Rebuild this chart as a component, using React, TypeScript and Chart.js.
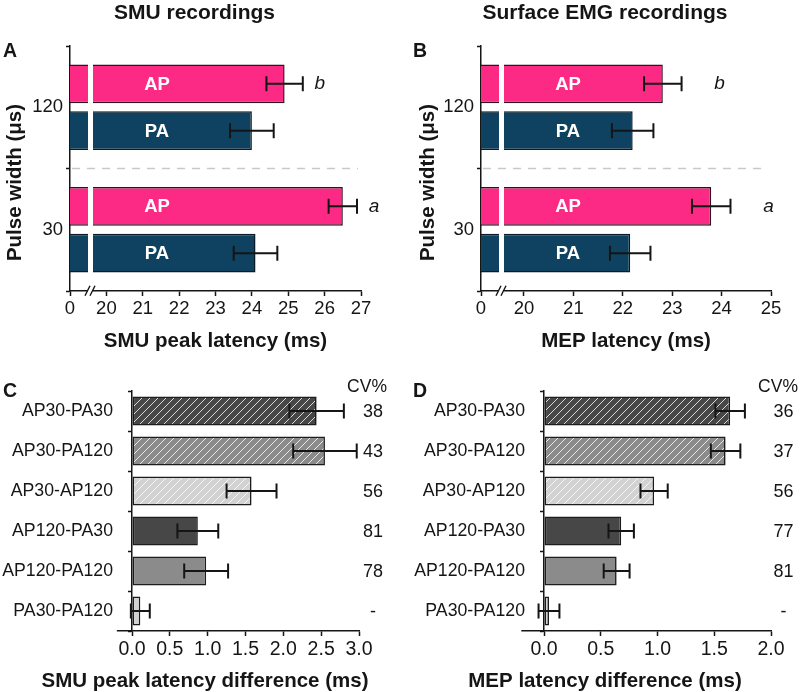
import React, { useEffect, useRef } from 'react';
import { Chart, registerables } from 'chart.js';

Chart.register(...registerables);

const FONT = '"Liberation Sans", Arial, Helvetica, sans-serif';
const INK = '#151515';
const PINK = '#FC2A84';
const NAVY = '#0F4260';

// ---------- Panels A & B : latencies ----------
const pulseWidths = ['120', '30'];
const sigLetters = ['b', 'a'];

const smuApLatency = [24.9, 26.5];
const smuApSem = [0.5, 0.39];
const smuPaLatency = [24.0, 24.1];
const smuPaSem = [0.6, 0.6];
const smuXTicks = [20, 21, 22, 23, 24, 25, 26, 27];

const mepApLatency = [22.81, 23.79];
const mepApSem = [0.38, 0.39];
const mepPaLatency = [22.2, 22.15];
const mepPaSem = [0.42, 0.41];
const mepXTicks = [20, 21, 22, 23, 24, 25];

// ---------- Panels C & D : latency differences ----------
const comparisons = ['AP30-PA30', 'AP30-PA120', 'AP30-AP120', 'AP120-PA30', 'AP120-PA120', 'PA30-PA120'];

const smuDiff = [2.44, 2.55, 1.58, 0.87, 0.98, 0.11];
const smuDiffSem = [0.36, 0.42, 0.33, 0.27, 0.29, 0.125];
const smuCv = ['38', '43', '56', '81', '78', '-'];
const smuDiffTicks = [0, 0.5, 1, 1.5, 2, 2.5, 3];

const mepDiff = [1.64, 1.6, 0.97, 0.68, 0.64, 0.044];
const mepDiffSem = [0.13, 0.13, 0.12, 0.112, 0.114, 0.092];
const mepCv = ['36', '37', '56', '77', '81', '-'];
const mepDiffTicks = [0, 0.5, 1, 1.5, 2];

function hatch(bg: string) {
  const c = document.createElement('canvas');
  c.width = 8;
  c.height = 8;
  const g = c.getContext('2d')!;
  g.fillStyle = bg;
  g.fillRect(0, 0, 8, 8);
  g.strokeStyle = 'rgba(255,255,255,0.8)';
  g.lineWidth = 1;
  g.beginPath();
  g.moveTo(-1, 9);
  g.lineTo(9, -1);
  g.moveTo(-3, 3);
  g.lineTo(3, -3);
  g.moveTo(5, 11);
  g.lineTo(11, 5);
  g.stroke();
  return g.createPattern(c, 'repeat');
}

const alignPx = (p: number, w: number) => Math.round(p - w / 2) + w / 2;

type LatSpec = {
  left: number; right: number; min: number; max: number; ticks: number[];
  ap: number[]; apErr: number[]; pa: number[]; paErr: number[];
  sigGap: number; title: string; titleX: number; letter: string; letterX: number;
  yTitleX: number; xTitle: string;
};

function latencyConfig(s: LatSpec): any {
  const W = 400, H = 360, TOP = 46, BOTTOM = 291;
  const decor = {
    id: 'latDecor',
    afterDatasetsDraw(chart: any) {
      const { ctx, chartArea: ca, scales } = chart;
      const xs = scales.x, ys = scales.y;
      ctx.save();
      // white break stripe through the bars
      ctx.fillStyle = '#ffffff';
      ctx.fillRect(ca.left + 18, ca.top, 5, ca.bottom - ca.top - 1.5);
      // dashed separator between pulse widths
      const sepY = (ys.getPixelForValue(0) + ys.getPixelForValue(1)) / 2;
      ctx.strokeStyle = '#c9c9c9';
      ctx.lineWidth = 1.5;
      ctx.setLineDash([8, 7]);
      ctx.beginPath();
      ctx.moveTo(ca.left + 2, sepY);
      ctx.lineTo(ca.right - 3, sepY);
      ctx.stroke();
      ctx.setLineDash([]);
      // error bars
      const series: [number[], number[]][] = [[s.ap, s.apErr], [s.pa, s.paErr]];
      ctx.strokeStyle = INK;
      ctx.lineWidth = 2;
      series.forEach(([vals, errs], di) => {
        chart.getDatasetMeta(di).data.forEach((el: any, i: number) => {
          const x1 = xs.getPixelForValue(vals[i] - errs[i]);
          const x2 = xs.getPixelForValue(vals[i] + errs[i]);
          const y = el.y;
          ctx.beginPath();
          ctx.moveTo(x1, y); ctx.lineTo(x2, y);
          ctx.moveTo(x1, y - 7.5); ctx.lineTo(x1, y + 7.5);
          ctx.moveTo(x2, y - 7.5); ctx.lineTo(x2, y + 7.5);
          ctx.stroke();
        });
      });
      // bar labels
      ctx.fillStyle = '#ffffff';
      ctx.font = `bold 18.5px ${FONT}`;
      ctx.textAlign = 'center';
      ctx.textBaseline = 'middle';
      chart.data.datasets.forEach((ds: any, di: number) => {
        chart.getDatasetMeta(di).data.forEach((el: any) => ctx.fillText(ds.label, ca.left + 87, el.y + 1));
      });
      // significance letters
      ctx.fillStyle = INK;
      ctx.font = `italic 19px ${FONT}`;
      chart.getDatasetMeta(0).data.forEach((el: any, i: number) => {
        const x = xs.getPixelForValue(s.ap[i] + s.apErr[i]) + s.sigGap;
        ctx.fillText(sigLetters[i], x, el.y);
      });
      ctx.restore();
    },
    afterDraw(chart: any) {
      const { ctx, chartArea: ca } = chart;
      ctx.save();
      // axis break marks
      const by = alignPx(ca.bottom, 1.5);
      ctx.fillStyle = '#ffffff';
      ctx.fillRect(ca.left + 17.5, by - 2, 5, 4);
      ctx.strokeStyle = INK;
      ctx.lineWidth = 1.4;
      [ca.left + 17.5, ca.left + 22.5].forEach((cx) => {
        ctx.beginPath();
        ctx.moveTo(cx - 2.5, by + 5);
        ctx.lineTo(cx + 2.5, by - 5);
        ctx.stroke();
      });
      // texts
      ctx.fillStyle = INK;
      ctx.textBaseline = 'alphabetic';
      ctx.textAlign = 'center';
      ctx.font = `bold 21px ${FONT}`;
      ctx.fillText(s.title, s.titleX, 19);
      ctx.font = `bold 20.5px ${FONT}`;
      ctx.fillText(s.xTitle, (ca.left + ca.right) / 2, 347);
      ctx.textAlign = 'left';
      ctx.font = `bold 19.5px ${FONT}`;
      ctx.fillText(s.letter, s.letterX, 57);
      ctx.translate(s.yTitleX, 182.5);
      ctx.rotate(-Math.PI / 2);
      ctx.textAlign = 'center';
      ctx.textBaseline = 'middle';
      ctx.font = `bold 20.5px ${FONT}`;
      ctx.fillText('Pulse width (\u03BCs)', 0, 0);
      ctx.restore();
    },
  };
  return {
    type: 'bar',
    data: {
      labels: pulseWidths,
      datasets: [
        { label: 'AP', data: s.ap, backgroundColor: PINK, borderColor: '#2b1420', borderWidth: 1.5, borderSkipped: false, categoryPercentage: 0.765, barPercentage: 0.83 },
        { label: 'PA', data: s.pa, backgroundColor: NAVY, borderColor: '#0b1a24', borderWidth: 1.5, borderSkipped: false, categoryPercentage: 0.765, barPercentage: 0.83 },
      ],
    },
    options: {
      indexAxis: 'y',
      responsive: false,
      animation: false,
      events: [],
      layout: { padding: { left: 0, top: TOP, right: W - s.right, bottom: 0 } },
      plugins: { legend: { display: false }, tooltip: { enabled: false } },
      scales: {
        x: {
          type: 'linear',
          min: s.min,
          max: s.max,
          afterBuildTicks: (sc: any) => { sc.ticks = [s.min, ...s.ticks].map((v) => ({ value: v })); },
          afterFit: (sc: any) => { sc.height = H - BOTTOM; },
          ticks: {
            autoSkip: false, maxRotation: 0, padding: 2, color: INK,
            font: { family: FONT, size: 18.5 },
            callback: (v: any, i: number) => (i === 0 ? '0' : String(v)),
          },
          grid: { drawOnChartArea: false, tickLength: 5, tickWidth: 1.5, tickColor: INK },
          border: { color: INK, width: 1.5 },
        },
        y: {
          type: 'category',
          afterFit: (sc: any) => { sc.width = s.left; },
          ticks: { padding: 3, color: INK, font: { family: FONT, size: 18.5 } },
          grid: { offset: true, drawOnChartArea: false, tickLength: 4, tickWidth: 1.5, tickColor: INK },
          border: { color: INK, width: 1.5 },
        },
      },
    },
    plugins: [decor],
  };
}

type DiffSpec = {
  left: number; right: number; max: number; ticks: number[];
  values: number[]; errs: number[]; cv: string[]; cvHeadX: number; cvGap: number;
  letter: string; letterX: number; xTitle: string;
};

function diffConfig(s: DiffSpec): any {
  const W = 400, H = 352, TOP = 51, BOTTOM = 291;
  const dark = '#474747', mid = '#8b8b8b', light = '#d2d2d2';
  const fills = [hatch(dark), hatch(mid), hatch(light), dark, mid, light];
  const decor = {
    id: 'diffDecor',
    afterDatasetsDraw(chart: any) {
      const { ctx, chartArea: ca, scales } = chart;
      const xs = scales.x;
      ctx.save();
      // x-axis extension left of zero
      const by = alignPx(ca.bottom, 1.5);
      ctx.strokeStyle = INK;
      ctx.lineWidth = 1.5;
      ctx.beginPath();
      ctx.moveTo(xs.getPixelForValue(-0.2), by);
      ctx.lineTo(ca.left, by);
      ctx.stroke();
      // error bars
      ctx.lineWidth = 2;
      chart.getDatasetMeta(0).data.forEach((el: any, i: number) => {
        const x1 = xs.getPixelForValue(s.values[i] - s.errs[i]);
        const x2 = xs.getPixelForValue(s.values[i] + s.errs[i]);
        const y = el.y;
        ctx.beginPath();
        ctx.moveTo(x1, y); ctx.lineTo(x2, y);
        ctx.moveTo(x1, y - 7.5); ctx.lineTo(x1, y + 7.5);
        ctx.moveTo(x2, y - 7.5); ctx.lineTo(x2, y + 7.5);
        ctx.stroke();
      });
      // CV column
      ctx.fillStyle = INK;
      ctx.font = `18px ${FONT}`;
      ctx.textAlign = 'center';
      ctx.textBaseline = 'middle';
      chart.getDatasetMeta(0).data.forEach((el: any, i: number) => {
        ctx.fillText(s.cv[i], ca.right + s.cvGap, el.y + 1);
      });
      ctx.textBaseline = 'alphabetic';
      ctx.font = `17.5px ${FONT}`;
      ctx.fillText('CV%', s.cvHeadX, 52);
      // titles
      ctx.font = `bold 20.5px ${FONT}`;
      ctx.fillText(s.xTitle, 205, 347);
      ctx.textAlign = 'left';
      ctx.font = `bold 19.5px ${FONT}`;
      ctx.fillText(s.letter, s.letterX, 57);
      ctx.restore();
    },
  };
  return {
    type: 'bar',
    data: {
      labels: comparisons,
      datasets: [
        { data: s.values, backgroundColor: fills, borderColor: '#1c1c1c', borderWidth: 1.6, borderSkipped: false, barPercentage: 0.725, categoryPercentage: 1 },
      ],
    },
    options: {
      indexAxis: 'y',
      responsive: false,
      animation: false,
      events: [],
      layout: { padding: { left: 0, top: TOP, right: W - s.right, bottom: 0 } },
      plugins: { legend: { display: false }, tooltip: { enabled: false } },
      scales: {
        x: {
          type: 'linear',
          min: 0,
          max: s.max,
          afterBuildTicks: (sc: any) => { sc.ticks = s.ticks.map((v) => ({ value: v })); },
          afterFit: (sc: any) => { sc.height = H - BOTTOM; },
          ticks: {
            autoSkip: false, maxRotation: 0, padding: 2, color: INK,
            font: { family: FONT, size: 19.5 },
            callback: (v: any) => Number(v).toFixed(1),
          },
          grid: { drawOnChartArea: false, tickLength: 5, tickWidth: 1.5, tickColor: INK },
          border: { color: INK, width: 1.5 },
        },
        y: {
          type: 'category',
          afterFit: (sc: any) => { sc.width = s.left; },
          ticks: { padding: 15, color: INK, font: { family: FONT, size: 17.7 } },
          grid: { offset: true, drawOnChartArea: false, tickLength: 4, tickWidth: 1.5, tickColor: INK },
          border: { color: INK, width: 1.5 },
        },
      },
    },
    plugins: [decor],
  };
}

function ChartCanvas(props: { make: () => any; left: number; top: number; width: number; height: number }) {
  const ref = useRef<HTMLCanvasElement>(null);
  useEffect(() => {
    const chart = new Chart(ref.current!, props.make());
    return () => chart.destroy();
  }, []);
  return (
    <canvas
      ref={ref}
      width={props.width}
      height={props.height}
      style={{ position: 'absolute', left: props.left, top: props.top, width: props.width, height: props.height }}
    />
  );
}

export default function App() {
  return (
    <div style={{ position: 'fixed', left: 0, top: 0, width: 800, height: 692, background: '#ffffff', overflow: 'hidden' }}>
      <ChartCanvas
        left={0} top={0} width={400} height={360}
        make={() => latencyConfig({
          left: 70, right: 361, min: 19, max: 27, ticks: smuXTicks,
          ap: smuApLatency, apErr: smuApSem, pa: smuPaLatency, paErr: smuPaSem,
          sigGap: 17, title: 'SMU recordings', titleX: 194.5, letter: 'A', letterX: 3,
          yTitleX: 15, xTitle: 'SMU peak latency (ms)',
        })}
      />
      <ChartCanvas
        left={400} top={0} width={400} height={360}
        make={() => latencyConfig({
          left: 81, right: 371, min: 19.13, max: 25, ticks: mepXTicks,
          ap: mepApLatency, apErr: mepApSem, pa: mepPaLatency, paErr: mepPaSem,
          sigGap: 38, title: 'Surface EMG recordings', titleX: 205, letter: 'B', letterX: 13,
          yTitleX: 28, xTitle: 'MEP latency (ms)',
        })}
      />
      <ChartCanvas
        left={0} top={340} width={400} height={352}
        make={() => diffConfig({
          left: 132, right: 359, max: 3, ticks: smuDiffTicks,
          values: smuDiff, errs: smuDiffSem, cv: smuCv, cvHeadX: 367, cvGap: 14,
          letter: 'C', letterX: 3, xTitle: 'SMU peak latency difference (ms)',
        })}
      />
      <ChartCanvas
        left={400} top={340} width={400} height={352}
        make={() => diffConfig({
          left: 144, right: 371, max: 2, ticks: mepDiffTicks,
          values: mepDiff, errs: mepDiffSem, cv: mepCv, cvHeadX: 378, cvGap: 12.5,
          letter: 'D', letterX: 13, xTitle: 'MEP latency difference (ms)',
        })}
      />
    </div>
  );
}
